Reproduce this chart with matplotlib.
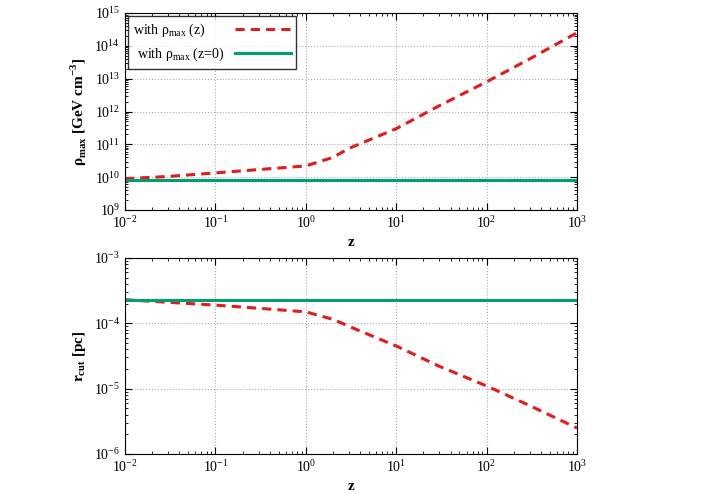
import matplotlib
matplotlib.use("Agg")
import matplotlib.pyplot as plt

z = [0.01, 0.03, 0.1, 0.3, 1.0, 2.0, 3.0, 10.0, 30.0, 100.0, 300.0, 1000.0]
rho_z = [9.0e9, 1.05e10, 1.35e10, 1.7e10, 2.2e10, 4.0e10, 7.5e10, 3.0e11, 1.5e12, 8.0e12, 4.0e13, 2.5e14]
rho_0 = 8.0e9
rcut_z = [2.3e-4, 2.1e-4, 1.9e-4, 1.7e-4, 1.5e-4, 1.15e-4, 9.0e-5, 4.5e-5, 2.2e-5, 1.1e-5, 5.5e-6, 2.5e-6]
rcut_0 = 2.3e-4

plt.rcParams["font.family"] = "Liberation Serif"
plt.rcParams["mathtext.fontset"] = "custom"
plt.rcParams["mathtext.rm"] = "Liberation Serif"
plt.rcParams["mathtext.bf"] = "Liberation Serif:bold"
fig = plt.figure(figsize=(7.06, 4.94), dpi=100)
ax1 = fig.add_axes([125/706, 1-210/494, 452/706, 197/494])
ax2 = fig.add_axes([125/706, 1-454/494, 452/706, 196/494])
red = "#e41a1c"; green = "#009e73"

ax1.plot(z, rho_z, color=red, ls=(0, (3, 2)), lw=2.2, label="with ρ$_{\\rm max}$ (z)      ")
ax1.plot([z[0], z[-1]], [rho_0, rho_0], color=green, lw=2.2, label="with ρ$_{\\rm max}$ (z=0)")
ax1.set_ylim(1e9, 1e15)
ax1.set_ylabel("ρ$_{\\mathbf{max}}$ [GeV cm$^{\\mathbf{-3}}$]", fontweight="bold", fontsize=11)
leg = ax1.legend(loc="upper left", fontsize=10, frameon=True, fancybox=False, edgecolor="black",
                 handlelength=4, borderaxespad=0.2, markerfirst=False)

ax2.plot(z, rcut_z, color=red, ls=(0, (3, 2)), lw=2.2)
ax2.plot([z[0], z[-1]], [rcut_0, rcut_0], color=green, lw=2.2)
ax2.set_ylim(1e-6, 1e-3)
ax2.set_ylabel("r$_{\\mathbf{cut}}$ [pc]", fontweight="bold", fontsize=11)

for ax in (ax1, ax2):
    ax.set_xscale("log"); ax.set_yscale("log")
    ax.set_xlim(1e-2, 1e3)
    ax.set_xlabel("z", fontweight="bold", fontsize=11)
    ax.grid(True, which="major", ls=":", color="#aaaaaa", lw=0.8)
    ax.minorticks_on()
    ax.tick_params(which="both", direction="in", top=True, right=True, labelsize=10)
    ax.tick_params(which="major", length=5)
    ax.tick_params(which="minor", length=2.5)

fig.savefig("out.png", dpi=100)
